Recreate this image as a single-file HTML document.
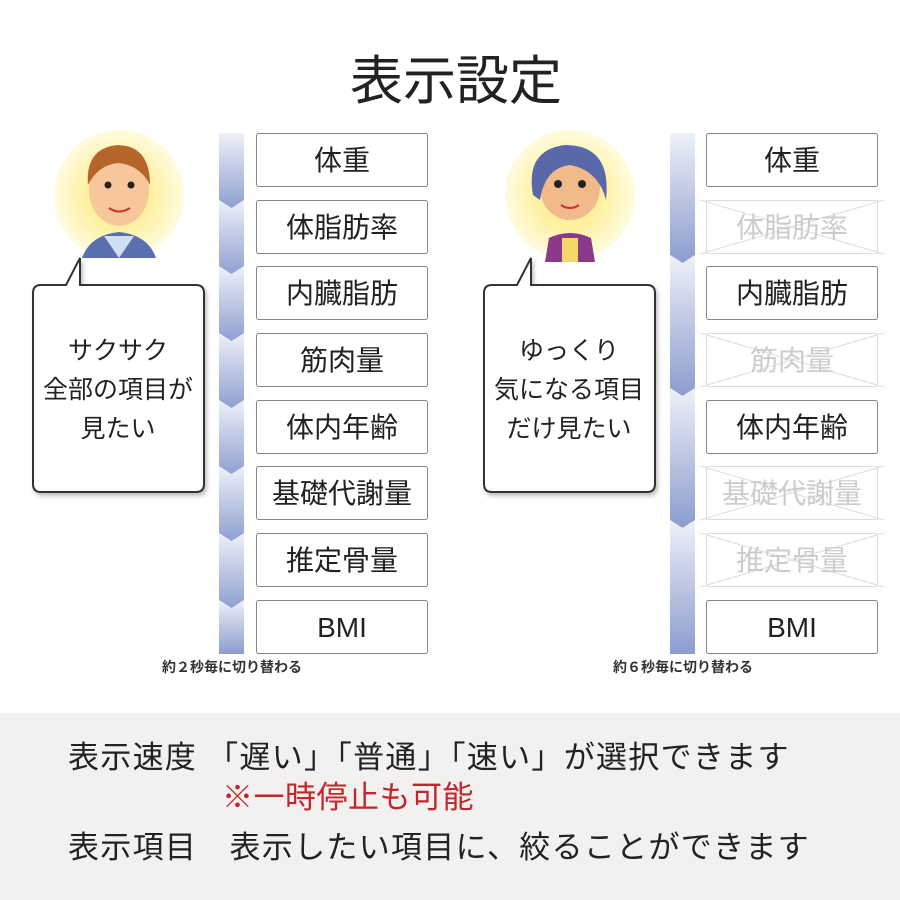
<!DOCTYPE html>
<html><head><meta charset="utf-8"><style>
body{margin:0;background:#fff}
svg{display:block}
text{font-family:"Liberation Sans","Noto Sans CJK JP",sans-serif}
</style></head><body>
<svg width="900" height="900" viewBox="0 0 900 900" xmlns="http://www.w3.org/2000/svg">
<defs>
<linearGradient id="g" x1="0" y1="0" x2="0" y2="1">
<stop offset="0" stop-color="#eef1f8"/><stop offset="1" stop-color="#8b9ccf"/></linearGradient>
<radialGradient id="yc" cx="0.5" cy="0.5" r="0.5">
<stop offset="0.5" stop-color="#fff1a0"/><stop offset="1" stop-color="#fffbe0"/></radialGradient>
</defs>
<text x="456" y="99" font-size="53" text-anchor="middle" fill="#222">表示設定</text>

<g fill="url(#g)">
<polygon points="219,133 244,133 244,203 231.5,211 219,203"/>
<polygon points="219,200 231.5,208 244,200 244,270 231.5,278 219,270"/>
<polygon points="219,266 231.5,274 244,266 244,336 231.5,344 219,336"/>
<polygon points="219,333 231.5,341 244,333 244,403 231.5,411 219,403"/>
<polygon points="219,400 231.5,408 244,400 244,470 231.5,478 219,470"/>
<polygon points="219,466 231.5,474 244,466 244,536 231.5,544 219,536"/>
<polygon points="219,533 231.5,541 244,533 244,603 231.5,611 219,603"/>
<polygon points="219,600 231.5,608 244,600 244,654 219,654"/>
</g>
<g fill="url(#g)">
<polygon points="670,133 695,133 695,255 682.5,263 670,255"/>
<polygon points="670,255 682.5,263 695,255 695,388 682.5,396 670,388"/>
<polygon points="670,388 682.5,396 695,388 695,520 682.5,528 670,520"/>
<polygon points="670,520 682.5,528 695,520 695,654 670,654"/>
</g>

<g font-size="28" text-anchor="middle" fill="#222">
<g fill="#fff" stroke="#888" stroke-width="1">
<rect x="256.5" y="133.5" width="171" height="53" rx="2"/>
<rect x="256.5" y="200.5" width="171" height="53" rx="2"/>
<rect x="256.5" y="266.5" width="171" height="53" rx="2"/>
<rect x="256.5" y="333.5" width="171" height="53" rx="2"/>
<rect x="256.5" y="400.5" width="171" height="53" rx="2"/>
<rect x="256.5" y="466.5" width="171" height="53" rx="2"/>
<rect x="256.5" y="533.5" width="171" height="53" rx="2"/>
<rect x="256.5" y="600.5" width="171" height="53" rx="2"/>
<rect x="706.5" y="133.5" width="171" height="53" rx="2"/>
<rect x="706.5" y="266.5" width="171" height="53" rx="2"/>
<rect x="706.5" y="400.5" width="171" height="53" rx="2"/>
<rect x="706.5" y="600.5" width="171" height="53" rx="2"/>
</g>
<g fill="none" stroke="#ddd" stroke-width="1">
<rect x="706.5" y="200.5" width="171" height="53"/>
<path d="M700,200 L884,254 M884,200 L700,254"/>
<rect x="706.5" y="333.5" width="171" height="53"/>
<path d="M700,333 L884,387 M884,333 L700,387"/>
<rect x="706.5" y="466.5" width="171" height="53"/>
<path d="M700,466 L884,520 M884,466 L700,520"/>
<rect x="706.5" y="533.5" width="171" height="53"/>
<path d="M700,533 L884,587 M884,533 L700,587"/>
</g>
<text x="342" y="170">体重</text>
<text x="342" y="237">体脂肪率</text>
<text x="342" y="303">内臓脂肪</text>
<text x="342" y="370">筋肉量</text>
<text x="342" y="437">体内年齢</text>
<text x="342" y="503">基礎代謝量</text>
<text x="342" y="570">推定骨量</text>
<text x="342" y="637">BMI</text>
<text x="792" y="170">体重</text>
<text x="792" y="237" fill="#ccc">体脂肪率</text>
<text x="792" y="303">内臓脂肪</text>
<text x="792" y="370" fill="#ccc">筋肉量</text>
<text x="792" y="437">体内年齢</text>
<text x="792" y="503" fill="#ccc">基礎代謝量</text>
<text x="792" y="570" fill="#ccc">推定骨量</text>
<text x="792" y="637">BMI</text>
</g>
<text x="232" y="672" font-size="14" text-anchor="middle" fill="#333" font-weight="bold">約２秒毎に切り替わる</text>
<text x="683" y="672" font-size="14" text-anchor="middle" fill="#333" font-weight="bold">約６秒毎に切り替わる</text>

<circle cx="119" cy="195" r="65" fill="url(#yc)"/>
<path d="M82,258 Q90,235 119,232 Q148,235 156,258 Z" fill="#5a6fb0"/>
<path d="M104,236 L119,258 L134,236 Z" fill="#cfe0f5"/>
<ellipse cx="119" cy="190" rx="30" ry="36" fill="#f7c69a"/>
<path d="M88,185 Q85,148 118,145 Q150,146 150,185 Q140,165 118,163 Q98,165 88,185 Z" fill="#b5652a"/>
<circle cx="108" cy="185" r="3.5" fill="#222"/><circle cx="131" cy="185" r="3.5" fill="#222"/>
<path d="M109,208 Q119,215 130,208" stroke="#c33" stroke-width="2" fill="none"/>

<circle cx="570" cy="195" r="65" fill="url(#yc)"/>
<path d="M545,262 L549,238 Q570,228 591,238 L595,262 Z" fill="#8b3a8a"/>
<rect x="562" y="238" width="16" height="24" fill="#f6d86a"/>
<ellipse cx="570" cy="188" rx="30" ry="32" fill="#f2b98a"/>
<path d="M533,195 Q525,150 565,145 Q612,145 606,200 Q598,170 570,165 Q545,168 540,200 Z" fill="#5868a8"/>
<circle cx="558" cy="184" r="4" fill="#222"/><circle cx="582" cy="184" r="4" fill="#222"/>
<path d="M561,205 Q570,211 579,205" stroke="#c33" stroke-width="2" fill="none"/>

<path d="M41,285 L66,285 L80,258 L80,285 L196,285 Q204,285 204,293 L204,484 Q204,492 196,492 L41,492 Q33,492 33,484 L33,293 Q33,285 41,285 Z" fill="#fff" stroke="#333" stroke-width="2" filter="drop-shadow(2px 3px 2px rgba(0,0,0,0.25))"/>
<g font-size="25" text-anchor="middle" fill="#222">
<text x="118" y="359">サクサク</text>
<text x="118" y="398">全部の項目が</text>
<text x="118" y="437">見たい</text>
</g>
<path d="M492,285 L517,285 L531,258 L531,285 L647,285 Q655,285 655,293 L655,484 Q655,492 647,492 L492,492 Q484,492 484,484 L484,293 Q484,285 492,285 Z" fill="#fff" stroke="#333" stroke-width="2" filter="drop-shadow(2px 3px 2px rgba(0,0,0,0.25))"/>
<g font-size="25" text-anchor="middle" fill="#222">
<text x="569" y="359">ゆっくり</text>
<text x="569" y="398">気になる項目</text>
<text x="569" y="437">だけ見たい</text>
</g>

<rect x="0" y="713" width="900" height="187" fill="#f3f0f0"/>
<g font-size="31" fill="#222" letter-spacing="1.3">
<text x="68" y="768">表示速度 「遅い」「普通」「速い」が選択できます</text>
<text x="222" y="808" fill="#c0272d" letter-spacing="0.5">※一時停止も可能</text>
<text x="68" y="858">表示項目　表示したい項目に、絞ることができます</text>
</g>
</svg>
</body></html>
